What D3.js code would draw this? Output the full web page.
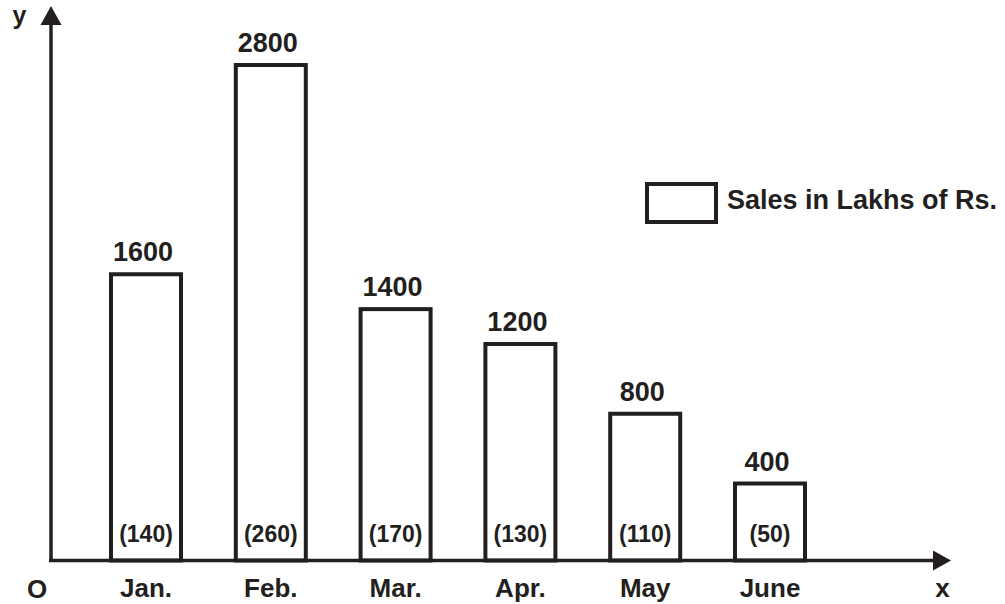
<!DOCTYPE html>
<html>
<head>
<meta charset="utf-8">
<script src="https://cdn.jsdelivr.net/npm/d3@7"></script>
<style>
  html, body { margin: 0; padding: 0; background: #fff; }
  svg text { font-family: "Liberation Sans", Arial, Helvetica, sans-serif; font-weight: bold; fill: #231f20; }
</style>
</head>
<body>
<svg id="chart" width="1005" height="604"></svg>
<script>
// ---- data ----
const months = ["Jan.", "Feb.", "Mar.", "Apr.", "May", "June"];
const sales = [1600, 2800, 1400, 1200, 800, 400];          // Sales in Lakhs of Rs.
const bracketValues = [140, 260, 170, 130, 110, 50];      // values in brackets
const legendLabel = "Sales in Lakhs of Rs.";

// ---- layout ----
const ink = "#231f20";
const svg = d3.select("#chart");
const baseY = 560.5;
const axisX = 51;

const x = d3.scalePoint().domain(months).range([146, 770]);
const y = d3.scaleLinear().domain([0, 2800]).range([baseY - 7.25, 65]);
const barW = 70;

// bars
svg.append("g").selectAll("rect")
  .data(months)
  .join("rect")
  .attr("x", d => x(d) - barW / 2)
  .attr("y", (d, i) => y(sales[i]))
  .attr("width", barW)
  .attr("height", (d, i) => baseY - y(sales[i]))
  .attr("fill", "#fff")
  .attr("stroke", ink)
  .attr("stroke-width", 4);

// value labels on top
svg.append("g").selectAll("text")
  .data(months)
  .join("text")
  .attr("x", d => x(d) - 3)
  .attr("y", (d, i) => y(sales[i]) - 13)
  .attr("text-anchor", "middle")
  .attr("font-size", 27)
  .text((d, i) => sales[i]);

// bracket labels inside bars
svg.append("g").selectAll("text")
  .data(months)
  .join("text")
  .attr("x", d => x(d))
  .attr("y", 542)
  .attr("text-anchor", "middle")
  .attr("font-size", 23)
  .text((d, i) => "(" + bracketValues[i] + ")");

// category labels
svg.append("g").selectAll("text")
  .data(months)
  .join("text")
  .attr("x", d => x(d))
  .attr("y", 597)
  .attr("text-anchor", "middle")
  .attr("font-size", 26)
  .text(d => d);

// axes
svg.append("line")
  .attr("x1", axisX).attr("y1", 24).attr("x2", axisX).attr("y2", baseY + 1.5)
  .attr("stroke", ink).attr("stroke-width", 3.5);
svg.append("line")
  .attr("x1", axisX - 2).attr("y1", baseY).attr("x2", 935).attr("y2", baseY)
  .attr("stroke", ink).attr("stroke-width", 3.5);
// arrow heads
svg.append("path")
  .attr("d", `M${axisX},6 L${axisX + 10.5},25 L${axisX - 10.5},25 Z`)
  .attr("fill", ink);
svg.append("path")
  .attr("d", `M951,${baseY} L933,${baseY - 10} L933,${baseY + 10} Z`)
  .attr("fill", ink);

// axis letters
svg.append("text").attr("x", 19.5).attr("y", 24).attr("text-anchor", "middle").attr("font-size", 25).text("y");
svg.append("text").attr("x", 942.5).attr("y", 597).attr("text-anchor", "middle").attr("font-size", 26).text("x");
svg.append("text").attr("x", 37).attr("y", 598).attr("text-anchor", "middle").attr("font-size", 26).text("O");

// legend
svg.append("rect")
  .attr("x", 647).attr("y", 184).attr("width", 69).attr("height", 38)
  .attr("fill", "#fff").attr("stroke", ink).attr("stroke-width", 4);
svg.append("text").attr("x", 727).attr("y", 209).attr("font-size", 27).text(legendLabel);
</script>
</body>
</html>
